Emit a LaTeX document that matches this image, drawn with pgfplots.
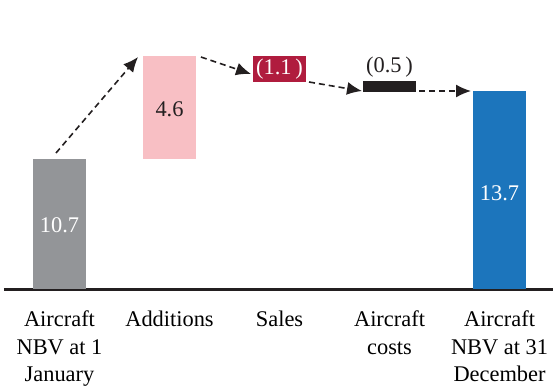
\documentclass[border=0pt]{standalone}
\usepackage{pgfplots}
\pgfplotsset{compat=1.18}
\usepackage{fontspec}
\setmainfont{Liberation Serif}
\usetikzlibrary{arrows.meta}
\definecolor{cgray}{HTML}{939598}
\definecolor{cpink}{HTML}{F8BFC4}
\definecolor{ccrim}{HTML}{B01C3E}
\definecolor{cblack}{HTML}{231F20}
\definecolor{cblue}{HTML}{1C75BC}
\tikzset{warrow/.style={line width=0.8pt, dash pattern=on 3pt off 2pt, draw=cblack, -{Latex[length=7.5pt,width=6.5pt]}}}
\begin{document}
\fontsize{11.2}{13.75}\selectfont
\begin{tikzpicture}
\begin{axis}[
  scale only axis, width=274.5pt, height=144.5pt,
  xmin=-0.505, xmax=4.486, ymin=0, ymax=28.9,
  ybar stacked, bar width=26.5pt,
  axis x line*=bottom, hide y axis,
  x axis line style={line width=1.5pt, draw=cblack},
  xtick={0,1,2,3,4}, major tick length=0pt,
  xticklabels={{Aircraft\\NBV at 1\\January}, {Additions}, {Sales}, {Aircraft\\costs}, {Aircraft\\NBV at 31\\December}},
  xticklabel style={align=center, yshift=-7pt},
  clip=false,
]
\addplot[draw=none, fill=none] coordinates {(0,0) (1,13.0) (2,20.7) (3,19.7) (4,0)};
\addplot[draw=none, fill=cgray] coordinates {(0,13.0) (1,0) (2,0) (3,0) (4,0)};
\addplot[draw=none, fill=cpink] coordinates {(0,0) (1,10.3) (2,0) (3,0) (4,0)};
\addplot[draw=none, fill=ccrim] coordinates {(0,0) (1,0) (2,2.6) (3,0) (4,0)};
\addplot[draw=none, fill=cblack] coordinates {(0,0) (1,0) (2,0) (3,1.1) (4,0)};
\addplot[draw=none, fill=cblue] coordinates {(0,0) (1,0) (2,0) (3,0) (4,19.8)};
\draw[warrow] (axis cs:-0.032,13.6) -- (axis cs:0.714,23.2);
\draw[warrow] (axis cs:1.286,23.2) -- (axis cs:1.741,21.5);
\draw[warrow] (axis cs:2.268,20.7) -- (axis cs:2.75,19.8);
\draw[warrow] (axis cs:3.268,19.8) -- (axis cs:3.741,19.8);
\path (axis cs:0,6.4) coordinate (l1)
      (axis cs:1,18.0) coordinate (l2)
      (axis cs:2,22.0) coordinate (l3)
      (axis cs:3,22.2) coordinate (l4)
      (axis cs:4,9.6) coordinate (l5);
\path (axis cs:-0.541,-9.7) coordinate (bl) (axis cs:4.486,28.9) coordinate (tr);
\end{axis}
\node[text=white] at (l1) {10.7};
\node[text=cblack] at (l2) {4.6};
\node[text=white] at (l3) {(1.1\,)};
\node[text=cblack] at (l4) {(0.5\,)};
\node[text=white] at (l5) {13.7};
\pgfresetboundingbox
\path (bl) rectangle (tr);
\end{tikzpicture}
\end{document}
